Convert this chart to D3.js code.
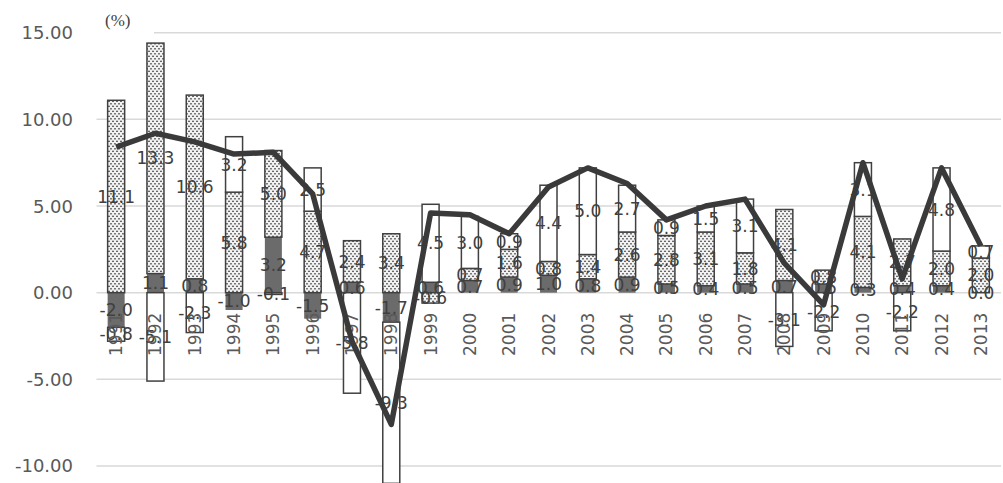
<!DOCTYPE html>
<html>
<head>
<meta charset="utf-8">
<script src="https://cdn.jsdelivr.net/npm/d3@7"></script>
<style>
  html, body { margin: 0; padding: 0; background: #fff; }
  svg { display: block; }
</style>
</head>
<body>
<svg id="chart" width="1003" height="483"></svg>
<script>
// Years on the category axis
const years = ["1991","1992","1993","1994","1995","1996","1997","1998","1999","2000",
  "2001","2002","2003","2004","2005","2006","2007","2008","2009","2010","2011","2012","2013"];

// Contributions (percentage points), stacked in this order
const darkSeries   = [-2.0, 1.1, 0.8, -1.0, 3.2, -1.5, 0.6, -1.7, 0.6, 0.7, 0.9, 1.0, 0.8, 0.9, 0.5, 0.4, 0.5, 0.7, 0.5, 0.3, 0.4, 0.4, 0.0];
const dottedSeries = [11.1, 13.3, 10.6, 5.8, 5.0, 4.7, 2.4, 3.4, -0.6, 0.7, 1.6, 0.8, 1.4, 2.6, 2.8, 3.1, 1.8, 4.1, 0.8, 4.1, 2.7, 2.0, 2.0];
const whiteSeries  = [-0.8, -5.1, -2.3, 3.2, -0.1, 2.5, -5.8, -9.3, 4.5, 3.0, 0.9, 4.4, 5.0, 2.7, 0.9, 1.5, 3.1, -3.1, -2.2, 3.1, -2.2, 4.8, 0.7];

// Overall growth rate (%)
const totalSeries  = [8.4, 9.2, 8.7, 8.0, 8.1, 5.7, -2.8, -7.6, 4.6, 4.5, 3.4, 6.1, 7.2, 6.3, 4.2, 5.0, 5.4, 1.7, -0.7, 7.5, 0.8, 7.2, 2.7];

// Value axis ticks
const yTicks = [-10, -5, 0, 5, 10, 15];

const svg = d3.select("#chart");
const textColor = "#404040";

const x = d3.scaleBand()
  .domain(years)
  .range([96.5, 1000.5])
  .paddingInner(0.567)
  .paddingOuter(0.2835);

const y = d3.scaleLinear().domain([-10, 15]).range([466, 32.7]);

// Number formats with a plain hyphen for negatives
const fmt1 = v => v.toFixed(1);
const fmt2 = v => v.toFixed(2);

// Dot pattern fill
const defs = svg.append("defs");
const pat = defs.append("pattern")
  .attr("id", "dots")
  .attr("patternUnits", "userSpaceOnUse")
  .attr("width", 4).attr("height", 5);
pat.append("rect").attr("width", 4).attr("height", 5).attr("fill", "#f2f2f2");
pat.append("circle").attr("cx", 1).attr("cy", 1.25).attr("r", 0.85).attr("fill", "#3c3c3c");
pat.append("circle").attr("cx", 3).attr("cy", 3.75).attr("r", 0.85).attr("fill", "#3c3c3c");

// Gridlines
svg.append("g")
  .selectAll("line")
  .data(yTicks)
  .join("line")
  .attr("x1", 96.5).attr("x2", 1001)
  .attr("y1", d => y(d)).attr("y2", d => y(d))
  .attr("stroke", "#d9d9d9")
  .attr("stroke-width", 1.5);

// Value axis labels
svg.append("g")
  .selectAll("text")
  .data(yTicks)
  .join("text")
  .attr("x", 73)
  .attr("y", d => y(d))
  .attr("dy", "0.36em")
  .attr("text-anchor", "end")
  .attr("font-family", "DejaVu Sans")
  .attr("font-size", 18)
  .attr("fill", "#595959")
  .text(d => fmt2(d));

// Stacked bars
const rows = years.map((yr, i) => ({
  year: yr, dark: darkSeries[i], dotted: dottedSeries[i], white: whiteSeries[i]
}));
const keys = ["dark", "dotted", "white"];
const stacked = d3.stack()
  .keys(keys)
  .order(d3.stackOrderNone)
  .offset(d3.stackOffsetDiverging)(rows);

const styles = {
  dark:   { fill: "#6b6b6b", stroke: "none" },
  dotted: { fill: "url(#dots)", stroke: "#404040" },
  white:  { fill: "#ffffff", stroke: "#404040" }
};

const barG = svg.append("g");
stacked.forEach(layer => {
  barG.append("g")
    .selectAll("rect")
    .data(layer)
    .join("rect")
    .attr("x", d => x(d.data.year))
    .attr("width", x.bandwidth())
    .attr("y", d => y(Math.max(d[0], d[1])))
    .attr("height", d => Math.abs(y(d[0]) - y(d[1])))
    .attr("fill", styles[layer.key].fill)
    .attr("stroke", styles[layer.key].stroke)
    .attr("stroke-width", 1.5);
});

// Segment value labels
const labelG = svg.append("g")
  .attr("font-family", "DejaVu Sans")
  .attr("font-size", 17)
  .attr("fill", textColor)
  .attr("text-anchor", "middle");
stacked.forEach(layer => {
  labelG.append("g")
    .selectAll("text")
    .data(layer)
    .join("text")
    .attr("x", d => x(d.data.year) + x.bandwidth() / 2)
    .attr("y", d => y((d[0] + d[1]) / 2))
    .attr("dy", "0.36em")
    .text(d => fmt1(d.data[layer.key]));
});

// Category labels, rotated
svg.append("g")
  .selectAll("text")
  .data(years)
  .join("text")
  .attr("transform", d => `translate(${x(d) + x.bandwidth() / 2 + 6},${y(0) + 20}) rotate(-90)`)
  .attr("text-anchor", "end")
  .attr("font-family", "DejaVu Sans")
  .attr("font-size", 17)
  .attr("fill", "#595959")
  .text(d => d);

// Growth rate line
const line = d3.line()
  .x((d, i) => x(years[i]) + x.bandwidth() / 2)
  .y(d => y(d));
svg.append("path")
  .datum(totalSeries)
  .attr("d", line)
  .attr("fill", "none")
  .attr("stroke", "#3a3a3a")
  .attr("stroke-width", 5.5)
  .attr("stroke-linejoin", "round");

// Unit label with its box
svg.append("rect")
  .attr("x", 96).attr("y", 6).attr("width", 58).attr("height", 30)
  .attr("fill", "#fff");
svg.append("text")
  .attr("x", 105).attr("y", 26)
  .attr("font-family", "Liberation Serif")
  .attr("font-size", 17)
  .attr("fill", textColor)
  .text("(%)");
</script>
</body>
</html>
